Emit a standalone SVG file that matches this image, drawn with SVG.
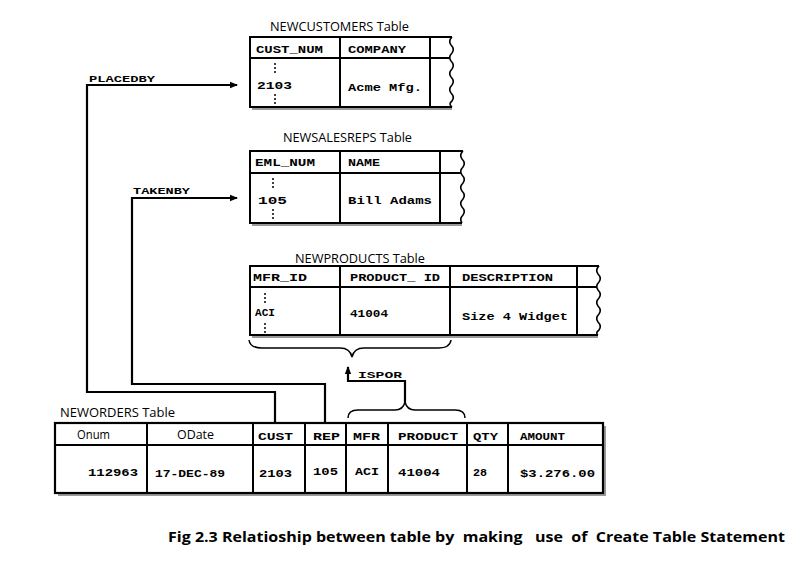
<svg xmlns="http://www.w3.org/2000/svg" width="803" height="561" viewBox="0 0 803 561">
<defs>
<style>
.title{font-family:"Open Sans","Liberation Sans",sans-serif;font-size:13.5px;fill:#000;}
.mono{font-family:"Liberation Mono","Courier New",monospace;font-weight:bold;font-size:11px;fill:#000;}
.hdr{font-family:"Liberation Mono","Courier New",monospace;font-weight:bold;font-size:10px;fill:#000;}
.lbl{font-family:"Liberation Mono","Courier New",monospace;font-weight:bold;font-size:9px;fill:#000;}
.sans{font-family:"Open Sans","Liberation Sans",sans-serif;font-size:13px;fill:#000;}
.cap{font-family:"Open Sans","Liberation Sans",sans-serif;font-weight:bold;font-size:15px;fill:#000;white-space:pre;}
.tb{fill:#fff;stroke:#000;stroke-width:2.2;}
.ln{fill:none;stroke:#000;stroke-width:2;}
.wave{fill:none;stroke:#000;stroke-width:1.6;}
.sh{fill:none;stroke:#9a9a9a;stroke-width:2;}
.conn{fill:none;stroke:#000;stroke-width:2.2;}
.brace{fill:none;stroke:#000;stroke-width:1.5;}
.dot{fill:#000;}
</style>
<marker id="arr" markerWidth="8" markerHeight="8" refX="7" refY="4" orient="auto" markerUnits="userSpaceOnUse">
<path d="M0,0.8 L8,4 L0,7.2 Z" fill="#000"/>
</marker>
</defs>
<rect width="803" height="561" fill="#fff"/>

<g id="newcustomers">
<text class="title" x="270" y="31" textLength="139" lengthAdjust="spacingAndGlyphs">NEWCUSTOMERS Table</text>
<path class="sh" d="M252,109 L452,109"/>
<path class="ln" d="M452,37 L250,37 L250,107 L452,107"/>
<path class="ln" d="M250,58 L450,58 M340,37 L340,107 M430,37 L430,107"/>
<path class="wave" d="M452,37 q-4,4 -1,8 q4,4 1,8 q-4,4 -1,8 q4,4 1,8 q-4,4 -1,8 q4,4 1,8 q-4,4 -1,8 q4,4 1,8 q-4,3 0,6"/>
<text class="hdr" x="256" y="53" textLength="67" lengthAdjust="spacingAndGlyphs">CUST_NUM</text>
<text class="hdr" x="348" y="53" textLength="58" lengthAdjust="spacingAndGlyphs">COMPANY</text>
<circle class="dot" cx="275" cy="64" r="1"/><circle class="dot" cx="275" cy="68" r="1"/><circle class="dot" cx="275" cy="72" r="1"/>
<text class="mono" x="257" y="89" textLength="35" lengthAdjust="spacingAndGlyphs">2103</text>
<circle class="dot" cx="275" cy="95" r="1"/><circle class="dot" cx="275" cy="99" r="1"/><circle class="dot" cx="275" cy="103" r="1"/>
<text class="mono" x="348" y="91" textLength="74" lengthAdjust="spacingAndGlyphs">Acme Mfg.</text>
</g>

<g id="newsalesreps">
<text class="title" x="283" y="142" textLength="129" lengthAdjust="spacingAndGlyphs">NEWSALESREPS Table</text>
<path class="sh" d="M252,225 L462,225"/>
<path class="ln" d="M463,151 L250,151 L250,223 L462,223"/>
<path class="ln" d="M250,173 L461,173 M340,151 L340,223 M440,151 L440,223"/>
<path class="wave" d="M463,151 q-4,4 -1,8 q4,4 1,8 q-4,4 -1,8 q4,4 1,8 q-4,4 -1,8 q4,4 1,8 q-4,4 -1,8 q4,4 1,8 q-4,4 -1,8"/>
<text class="hdr" x="255" y="166" textLength="60" lengthAdjust="spacingAndGlyphs">EML_NUM</text>
<text class="hdr" x="348" y="166" textLength="32" lengthAdjust="spacingAndGlyphs">NAME</text>
<circle class="dot" cx="273" cy="179" r="1"/><circle class="dot" cx="273" cy="183" r="1"/><circle class="dot" cx="273" cy="187" r="1"/>
<text class="mono" x="258" y="204" textLength="29" lengthAdjust="spacingAndGlyphs">105</text>
<circle class="dot" cx="273" cy="210" r="1"/><circle class="dot" cx="273" cy="214" r="1"/><circle class="dot" cx="273" cy="218" r="1"/>
<text class="mono" x="348" y="204" textLength="84" lengthAdjust="spacingAndGlyphs">Bill Adams</text>
</g>

<g id="newproducts">
<text class="title" x="295" y="263" textLength="130" lengthAdjust="spacingAndGlyphs">NEWPRODUCTS Table</text>
<path class="sh" d="M252,337 L598,337"/>
<path class="ln" d="M599,266 L250,266 L250,335 L598,335"/>
<path class="ln" d="M250,287 L597,287 M340,266 L340,335 M450,266 L450,335 M577,266 L577,335"/>
<path class="wave" d="M599,266 q-4,4 -1,8 q4,4 1,8 q-4,4 -1,8 q4,4 1,8 q-4,4 -1,8 q4,4 1,8 q-4,4 -1,8 q4,4 1,8 q-4,3 -1,5"/>
<text class="hdr" x="253" y="281" textLength="54" lengthAdjust="spacingAndGlyphs">MFR_ID</text>
<text class="hdr" x="350" y="281" textLength="90" lengthAdjust="spacingAndGlyphs">PRODUCT_ ID</text>
<text class="hdr" x="462" y="281" textLength="91" lengthAdjust="spacingAndGlyphs">DESCRIPTION</text>
<circle class="dot" cx="265" cy="294" r="1"/><circle class="dot" cx="265" cy="298" r="1"/><circle class="dot" cx="265" cy="302" r="1"/>
<text class="hdr" x="255" y="316" textLength="20" lengthAdjust="spacingAndGlyphs">ACI</text>
<circle class="dot" cx="265" cy="324" r="1"/><circle class="dot" cx="265" cy="328" r="1"/><circle class="dot" cx="265" cy="332" r="1"/>
<text class="hdr" x="350" y="317" textLength="38" lengthAdjust="spacingAndGlyphs">41004</text>
<text class="hdr" x="462" y="320" textLength="106" lengthAdjust="spacingAndGlyphs">Size 4 Widget</text>
<path class="brace" d="M249,340 Q250,348 262,348 L340,348 Q350,348 352,357 Q354,348 364,348 L438,348 Q450,348 451,340"/>
</g>

<g id="neworders">
<text class="title" x="60" y="417" textLength="115" lengthAdjust="spacingAndGlyphs">NEWORDERS Table</text>
<path class="sh" d="M58,495 L605,495 L605,426"/>
<rect class="tb" x="55" y="423" width="548" height="70"/>
<path class="ln" d="M55,445 L603,445 M147,423 L147,493 M253,423 L253,493 M305,423 L305,493 M346,423 L346,493 M388,423 L388,493 M467,423 L467,493 M508,423 L508,493"/>
<text class="sans" x="77" y="439" textLength="33" lengthAdjust="spacingAndGlyphs">Onum</text>
<text class="sans" x="177" y="439" textLength="37" lengthAdjust="spacingAndGlyphs">ODate</text>
<text class="hdr" x="258" y="440" textLength="35" lengthAdjust="spacingAndGlyphs">CUST</text>
<text class="hdr" x="313" y="440" textLength="27" lengthAdjust="spacingAndGlyphs">REP</text>
<text class="hdr" x="353" y="440" textLength="27" lengthAdjust="spacingAndGlyphs">MFR</text>
<text class="hdr" x="398" y="440" textLength="60" lengthAdjust="spacingAndGlyphs">PRODUCT</text>
<text class="hdr" x="473" y="440" textLength="25" lengthAdjust="spacingAndGlyphs">QTY</text>
<text class="hdr" x="520" y="440" textLength="45" lengthAdjust="spacingAndGlyphs">AMOUNT</text>
<text class="mono" x="88" y="476" textLength="50" lengthAdjust="spacingAndGlyphs">112963</text>
<text class="mono" x="155" y="477" textLength="70" lengthAdjust="spacingAndGlyphs">17-DEC-89</text>
<text class="mono" x="259" y="477" textLength="33" lengthAdjust="spacingAndGlyphs">2103</text>
<text class="mono" x="313" y="475" textLength="25" lengthAdjust="spacingAndGlyphs">105</text>
<text class="mono" x="355" y="475" textLength="24" lengthAdjust="spacingAndGlyphs">ACI</text>
<text class="mono" x="398" y="476" textLength="42" lengthAdjust="spacingAndGlyphs">41004</text>
<text class="mono" x="473" y="476" textLength="14" lengthAdjust="spacingAndGlyphs">28</text>
<text class="mono" x="520" y="477" textLength="75" lengthAdjust="spacingAndGlyphs">$3.276.00</text>
<path class="brace" d="M348,418 Q348,410 358,410 L395,410 Q403,410 405,402 Q407,410 415,410 L455,410 Q465,410 465,418"/>
</g>

<g id="connectors">
<path class="conn" d="M275,423 L275,392 L87,392 L87,85 L237,85" marker-end="url(#arr)"/>
<path class="conn" d="M325,423 L325,384 L132,384 L132,198 L237,198" marker-end="url(#arr)"/>
<path class="conn" d="M405,402 L405,381 L348,381 L348,367" marker-end="url(#arr)"/>
<text class="lbl" x="89" y="82" textLength="66" lengthAdjust="spacingAndGlyphs">PLACEDBY</text>
<text class="lbl" x="133" y="194" textLength="57" lengthAdjust="spacingAndGlyphs">TAKENBY</text>
<text class="lbl" x="358" y="378" textLength="44" lengthAdjust="spacingAndGlyphs">ISPOR</text>
</g>

<text class="cap" x="168" y="542" textLength="617" lengthAdjust="spacingAndGlyphs" xml:space="preserve">Fig 2.3 Relatioship between table by  making   use  of  Create Table Statement</text>
</svg>
